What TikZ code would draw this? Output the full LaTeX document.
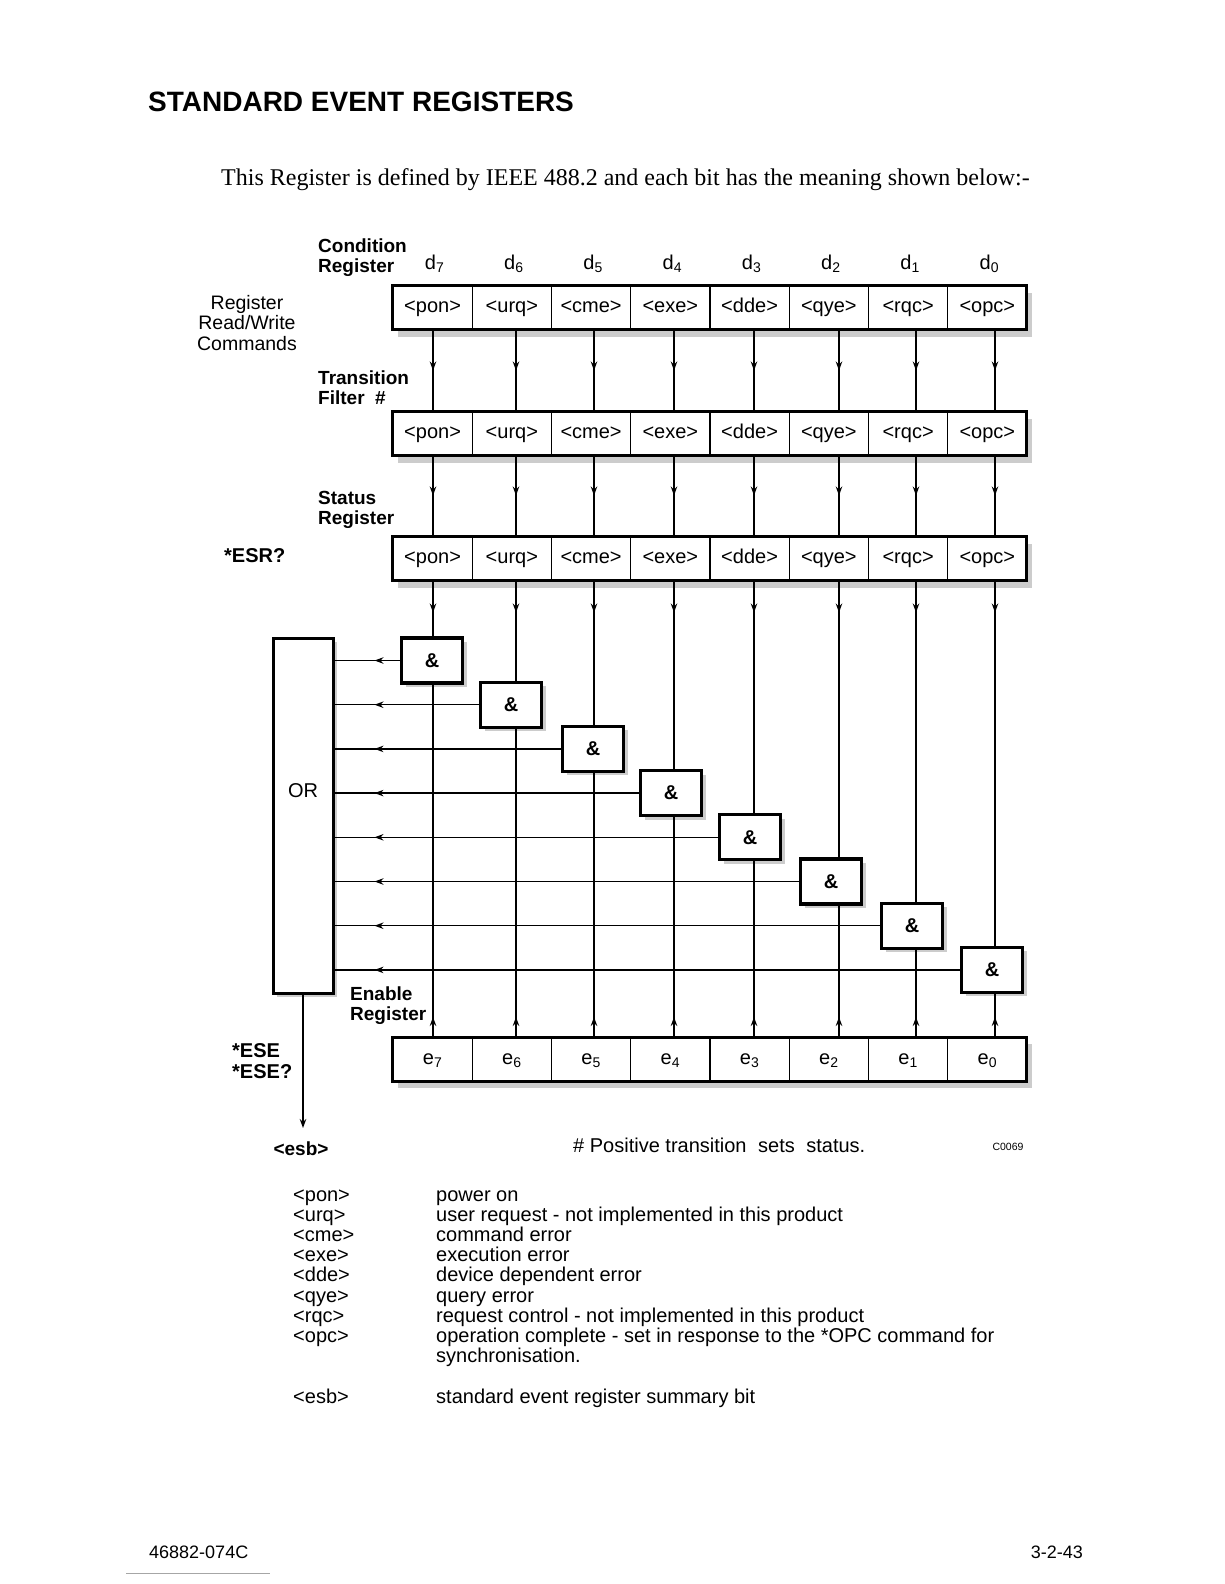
\documentclass[tikz,border=0pt]{standalone}
\usepackage{fontspec}
\setmainfont{Liberation Sans}
\newfontfamily\serifrm{Liberation Serif}
\usetikzlibrary{arrows.meta,decorations.markings,shadows,fit,backgrounds}
\begin{document}
\begin{tikzpicture}[x=1pt,y=-1pt,
  >={Stealth[length=9pt,width=6.5pt]},
  cell/.style={draw, line width=1.3pt, minimum width=79.25pt, minimum height=44pt,
    inner sep=0pt, outer sep=0pt, text height=14pt, text depth=4pt,
    font=\fontsize{20}{20}\selectfont},
  frame/.style={draw, line width=3pt, fill=white, inner sep=0pt,
    drop shadow={fill=gray!40, opacity=1, shadow xshift=5pt, shadow yshift=-7pt}},
  gate/.style={draw, line width=3.2pt, fill=white, minimum width=61pt, minimum height=45pt,
    inner sep=0pt, font=\bfseries\fontsize{20}{20}\selectfont,
    drop shadow={fill=gray!40, opacity=1, shadow xshift=4pt, shadow yshift=-4pt}},
  orbox/.style={draw, line width=3pt, fill=white, minimum width=60pt, minimum height=355pt,
    inner sep=0pt, drop shadow={fill=gray!40, opacity=1, shadow xshift=4pt, shadow yshift=-4pt}},
  conn/.style={line width=1.3pt},
  markat/.style={postaction={decorate, decoration={markings, mark=at position #1 with {\arrow{>}}}}},
  lab/.style={inner sep=0pt, font=\fontsize{20}{20.2}\selectfont},
  blab/.style={inner sep=0pt, font=\bfseries\fontsize{19}{20.2}\selectfont}
]
\useasboundingbox (0,0) rectangle (1224,1584);
\begin{scope}[on background layer]
  \fill[white] (0,0) rectangle (1224,1584);
\end{scope}

% title and intro
\node[inner sep=0pt, anchor=west, font=\bfseries\fontsize{28}{28}\selectfont] (title) at (148,102) {STANDARD EVENT REGISTERS};
\node[inner sep=0pt, anchor=base west, font=\serifrm\fontsize{24}{24}\selectfont] (intro) at (221,185) {This Register is defined by IEEE 488.2 and each bit has the meaning shown below:-};

% registers
\foreach \n [count=\k from 0] in {pon,urq,cme,exe,dde,qye,rqc,opc} {
  \pgfmathtruncatemacro\b{7-\k}
  \node[cell] (cr\b) at (432.6+79.25*\k,307.5) {<\n>};
  \node[cell] (tf\b) at (432.6+79.25*\k,433.5) {<\n>};
  \node[cell] (sr\b) at (432.6+79.25*\k,558.5) {<\n>};
  \node[cell] (en\b) at (432.6+79.25*\k,1059) {e\textsubscript{\b}};
  \node[inner sep=0pt, font=\fontsize{20}{20}\selectfont] (dl\b) at ([xshift=2pt,yshift=22pt]cr\b.north) {d\textsubscript{\b}};
}
\begin{scope}[on background layer]
  \node[frame, fit=(cr7)(cr0)] (crbox) {};
  \node[frame, fit=(tf7)(tf0)] (tfbox) {};
  \node[frame, fit=(sr7)(sr0)] (srbox) {};
  \node[frame, fit=(en7)(en0)] (enbox) {};
\end{scope}

% line positions
\foreach \b/\x in {7/433,6/516,5/594,4/674,3/754,2/839,1/916,0/995}
  \coordinate (L\b) at (\x,0);

% OR box
\node[orbox] (or) at (303,815.5) {};
\node[inner sep=0pt, font=\fontsize{20}{20}\selectfont] (orlbl) at ([yshift=25pt]or.center) {OR};

% gates
\foreach \b/\x/\k in {7/432/0,6/511/1,5/593/2,4/671/3,3/750/4,2/831/5,1/912/6,0/992/7}
  \node[gate] (g\b) at (\x,660.5+44.2*\k) {\&};

% connectors
\foreach \b in {7,6,5,4,3,2,1,0} {
  \draw[conn, markat=41pt] (L\b |- cr\b.south) -- (L\b |- tf\b.north);
  \draw[conn, markat=40pt] (L\b |- tf\b.south) -- (L\b |- sr\b.north);
  \draw[conn, markat=32pt] (L\b |- sr\b.south) -- (L\b |- g\b.north);
  \draw[conn, markat=20pt] (L\b |- en\b.north) -- (L\b |- g\b.south);
  \draw[conn, markat=-40pt] (g\b.west) -- (or.east |- g\b.west);
}
\coordinate (esbtip) at (303,1128);
\draw[conn, ->] (or.south) -- (esbtip);

% side labels
\node[blab, anchor=west, align=left] (condlbl) at (318,258) {Condition\\Register};
\node[lab, align=center, font=\fontsize{19.5}{20.2}\selectfont] (rwlbl) at (247,323) {Register\\Read/Write\\Commands};
\node[blab, anchor=west, align=left] (tflbl) at (318,388) {Transition\\Filter\ \ \#};
\node[blab, anchor=west, align=left] (srlbl) at (318,510) {Status\\Register};
\node[blab, anchor=west, font=\bfseries\fontsize{20}{20}\selectfont] (esr) at (224,556) {*ESR?};
\node[blab, anchor=west, align=left] (enlbl) at (350,1006) {Enable\\Register};
\node[blab, anchor=west, align=left, font=\bfseries\fontsize{20}{20.5}\selectfont] (ese) at (232,1061) {*ESE\\*ESE?};
\node[blab] (esb) at (301,1149) {<esb>};
\node[lab, anchor=west] (note) at (573,1145) {\# Positive transition\hspace{6pt} sets\hspace{6pt} status.};
\node[inner sep=0pt, font=\fontsize{10.5}{10}\selectfont] (code) at (1008,1147) {C0069};

% legend
\foreach \k/\a/\d in {0/pon/power on,
  1/urq/user request - not implemented in this product,
  2/cme/command error,
  3/exe/execution error,
  4/dde/device dependent error,
  5/qye/query error,
  6/rqc/request control - not implemented in this product,
  7/opc/operation complete - set in response to the *OPC command for} {
  \node[lab, anchor=base west] (ln\k) at (293,1201+20.2*\k) {<\a>};
  \node[lab, anchor=base west] (ld\k) at (436,1201+20.2*\k) {\d};
}
\node[lab, anchor=base west] (ld8) at (436,1362.6) {synchronisation.};
\node[lab, anchor=base west] (lnesb) at (293,1403) {<esb>};
\node[lab, anchor=base west] (ldesb) at (436,1403) {standard event register summary bit};

% footer
\node[inner sep=0pt, anchor=base west, font=\fontsize{18}{18}\selectfont] (foot1) at (149,1558.5) {46882-074C};
\node[inner sep=0pt, anchor=base east, font=\fontsize{18}{18}\selectfont] (foot2) at (1083,1558.5) {3-2-43};
\draw[gray!70, line width=1pt] (126,1573) -- (270,1573);
\end{tikzpicture}
\end{document}
